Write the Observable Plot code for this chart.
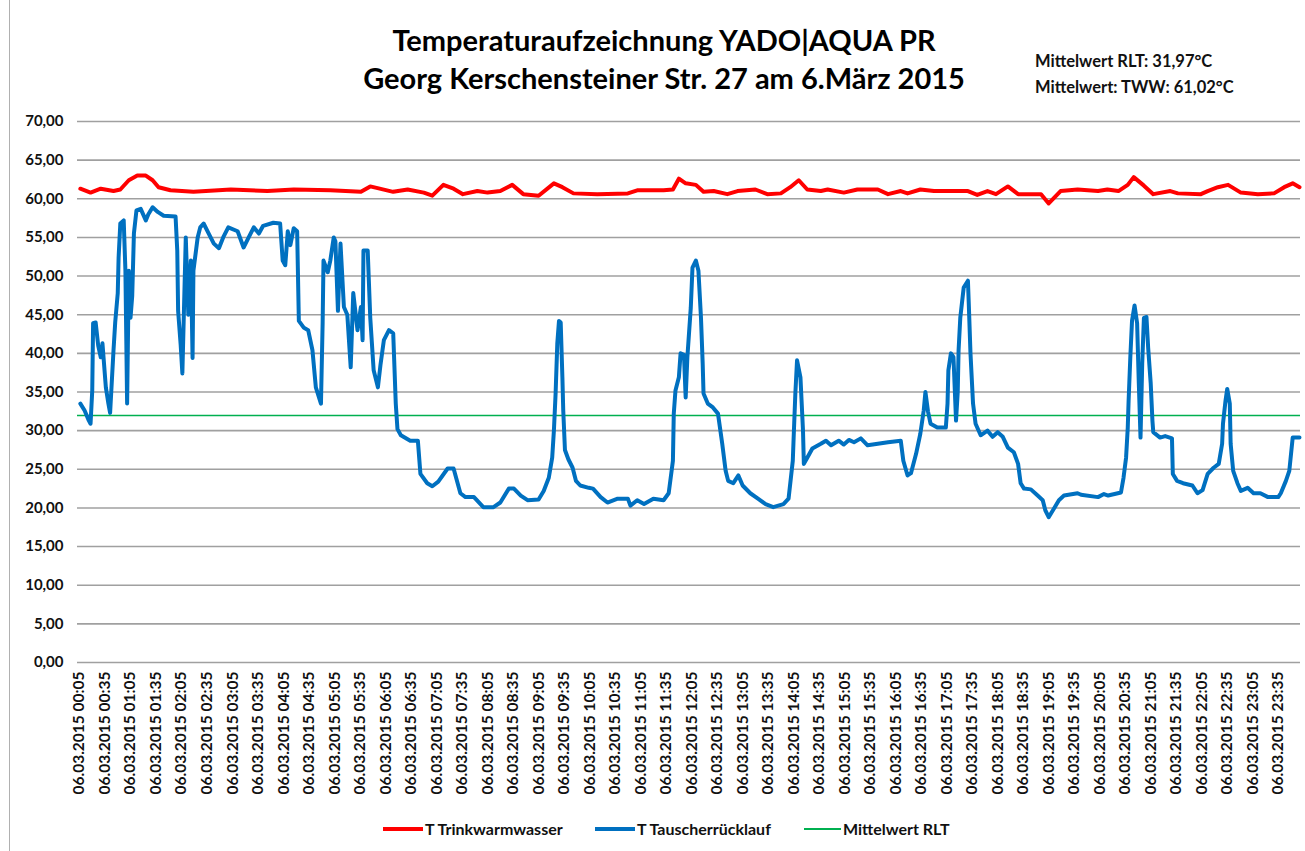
<!DOCTYPE html>
<html>
<head>
<meta charset="utf-8">
<script src="https://cdn.jsdelivr.net/npm/d3@7"></script>
<script src="https://cdn.jsdelivr.net/npm/@observablehq/plot@0.6"></script>
<style>
  html, body { margin: 0; padding: 0; background: #fff; }
  #wrap { position: relative; width: 1305px; height: 851px; overflow: hidden; font-family: Lato, "Open Sans", sans-serif; color: #111; }
  #frame { position: absolute; left: 9px; top: 0; width: 0; height: 851px; border-left: 1.5px solid #b0b0b0; }
  #title { position: absolute; left: 164px; width: 1000px; top: 21px; text-align: center; font-weight: bold; font-size: 29px; line-height: 38px; color: #000; }
  #note { position: absolute; left: 1035px; top: 48px; font-weight: bold; font-size: 16.5px; line-height: 26px; color: #111; }
  #chart { position: absolute; left: 0; top: 110px; }
  .leg { position: absolute; top: 819px; font-weight: bold; font-size: 16px; line-height: 20px; color: #111; display: flex; align-items: center; white-space: nowrap; }
  .sw { display: inline-block; margin-right: 2px; }
</style>
</head>
<body>
<div id="wrap">
  <div id="frame"></div>
  <div id="title">Temperaturaufzeichnung YADO|AQUA PR<br>Georg Kerschensteiner Str. 27 am 6.März 2015</div>
  <div id="note">Mittelwert RLT: 31,97°C<br>Mittelwert: TWW: 61,02°C</div>
  <div id="chart"></div>
  <div class="leg" style="left:383px"><span class="sw" style="width:40px;height:4px;background:#ff0000"></span>T Trinkwarmwasser</div>
  <div class="leg" style="left:595px"><span class="sw" style="width:40px;height:4px;background:#0070c0"></span>T Tauscherrücklauf</div>
  <div class="leg" style="left:804px"><span class="sw" style="width:37px;height:2px;background:#00b050"></span>Mittelwert RLT</div>
</div>
<script>
// minute of day (06.03.2015), value °C
const tauscherRuecklauf = [
  [6,33.5],[11,32.6],[16,31.3],[18,30.9],[20,35.2],[21,43.9],[24,44.0],[27,41],[30,39.5],[32,41.3],
  [36,35.6],[39,33.5],[41,32.3],[45,40.4],[47,44],[50,47.8],[51,52.4],[53,56.8],[57,57.2],[59,50.7],
  [61,33.5],[63,50.7],[65,44.6],[67,47.4],[69,55.5],[72,58.5],[77,58.7],[83,57.2],[86,58.0],[91,58.9],
  [97,58.3],[104,57.8],[118,57.7],[120,53.3],[121,45.5],[124,41.1],[126,37.4],[130,55],[133,45],[136,52],
  [138,39.4],[139,50.7],[144,55],[147,56.3],[151,56.8],[157,55.5],[163,54.2],[169,53.6],[174,55],[180,56.3],
  [191,55.8],[198,53.7],[204,55.0],[210,56.3],[216,55.5],[221,56.5],[233,56.9],[241,56.8],[244,52],[247,51.4],
  [250,55.8],[253,54],[257,56.2],[261,55.8],[263,44.2],[269,43.3],[274,43.0],[279,40.4],[283,35.6],[289,33.5],
  [291,44],[292,52],[297,50.5],[300,52],[304,55],[306,54.5],[309,45.5],[312,54.2],[316,46],[320,45],
  [324,38.2],[327,47.8],[332,43],[336,46],[338,41.7],[339,53.3],[344,53.3],[347,44.6],[351,37.8],[356,35.6],
  [359,38.5],[363,41.7],[369,43],[374,42.6],[377,33.5],[379,30.2],[383,29.4],[394,28.7],[403,28.7],[406,24.4],
  [414,23.2],[420,22.8],[427,23.4],[438,25.1],[445,25.1],[453,21.9],[459,21.4],[469,21.4],[480,20.1],[492,20.1],
  [500,20.7],[510,22.5],[516,22.5],[524,21.6],[532,21],[545,21.1],[551,22.2],[557,23.9],[561,26.5],[563,30],
  [565,34.8],[567,41.3],[569,44.2],[571,44],[573,36.9],[574,32.6],[576,27.5],[580,26.3],[585,25.2],[589,23.5],
  [594,22.9],[604,22.6],[609,22.5],[618,21.4],[626,20.7],[638,21.2],[650,21.2],[653,20.3],[661,21],[669,20.5],
  [680,21.2],[692,21],[698,21.9],[703,26.1],[704,32.2],[706,35.2],[710,36.9],[712,40],[716,39.8],[718,34.3],
  [720,39.5],[724,45.9],[726,51.1],[730,52],[733,50.7],[736,44.6],[738,38.7],[739,34.8],[744,33.5],[750,33],
  [756,32.2],[761,28.3],[765,24.8],[768,23.5],[774,23.2],[780,24.2],[785,22.9],[794,21.9],[803,21.2],[812,20.5],
  [821,20.1],[833,20.5],[839,21.2],[844,26.1],[845,29.1],[847,34.8],[849,39.1],[853,36.9],[856,30],[857,25.7],
  [861,26.5],[867,27.7],[877,28.3],[883,28.7],[889,28.1],[898,28.7],[904,28.2],[910,28.8],[916,28.5],[924,29],
  [932,28.1],[956,28.5],[971,28.7],[974,26.1],[979,24.2],[983,24.5],[989,27],[994,29.6],[998,32.6],[1000,35],
  [1003,32.5],[1006,30.9],[1014,30.4],[1024,30.4],[1026,33.5],[1027,37.8],[1030,40],[1033,39.5],[1036,31.3],[1038,35],
  [1039,40.4],[1041,44.6],[1045,48.5],[1050,49.4],[1051,46.4],[1053,40],[1056,33.5],[1059,30.9],[1065,29.4],[1073,30],
  [1079,29.2],[1085,29.8],[1091,29.2],[1097,27.8],[1104,27.2],[1109,25.7],[1112,23.2],[1116,22.5],[1124,22.4],[1132,21.6],
  [1138,21],[1141,19.7],[1145,18.8],[1150,19.7],[1157,21],[1163,21.6],[1179,21.9],[1183,21.7],[1203,21.4],[1210,21.8],
  [1215,21.6],[1230,22],[1233,23.9],[1236,26.5],[1238,30.4],[1239,33.9],[1241,39.5],[1243,44.2],[1246,46.2],[1249,43.9],
  [1251,36.1],[1253,29.1],[1255,38.7],[1257,44.6],[1260,44.7],[1262,40.7],[1265,36.1],[1267,31.3],[1268,29.8],[1276,29.1],
  [1282,29.3],[1290,29],[1291,24.4],[1296,23.5],[1303,23.2],[1314,22.9],[1320,21.9],[1326,22.3],[1332,24.4],[1339,25.2],
  [1345,25.7],[1349,28.3],[1350,30.9],[1353,33.9],[1355,35.4],[1358,33.5],[1359,28.3],[1362,24.8],[1367,23.2],[1371,22.2],
  [1379,22.6],[1386,21.9],[1394,21.9],[1403,21.4],[1415,21.4],[1418,21.9],[1424,23.5],[1428,24.8],[1432,29.1],[1440,29.1]
];
const trinkwarmwasser = [
  [6,61.3],[18,60.8],[30,61.3],[45,61.0],[53,61.2],[63,62.4],[73,63.0],[83,63.0],[91,62.4],[98,61.5],
  [112,61.1],[139,60.9],[183,61.2],[226,61.0],[257,61.2],[300,61.1],[336,60.9],[347,61.6],[374,60.9],[391,61.2],
  [410,60.8],[420,60.4],[433,61.8],[445,61.3],[456,60.6],[473,61.0],[485,60.8],[500,61.0],[514,61.8],[527,60.6],
  [545,60.4],[563,62.0],[573,61.5],[586,60.7],[614,60.6],[650,60.7],[661,61.1],[692,61.1],[703,61.2],[710,62.6],
  [718,62.0],[730,61.8],[739,60.9],[751,61.0],[767,60.6],[779,61.0],[800,61.2],[814,60.6],[830,60.7],[841,61.5],
  [851,62.4],[861,61.2],[877,61.0],[885,61.2],[904,60.8],[920,61.2],[944,61.2],[956,60.6],[971,61.0],[979,60.7],
  [994,61.2],[1010,61.0],[1033,61.0],[1050,61.0],[1061,60.5],[1073,61.0],[1083,60.6],[1097,61.6],[1109,60.6],[1136,60.6],
  [1145,59.4],[1159,61.0],[1179,61.2],[1203,61.0],[1214,61.2],[1227,61.0],[1238,61.8],[1245,62.8],[1257,61.7],[1268,60.6],
  [1288,61.0],[1297,60.7],[1324,60.6],[1332,61.0],[1344,61.5],[1356,61.8],[1371,60.8],[1391,60.6],[1410,60.7],[1422,61.5],
  [1432,62.0],[1440,61.5]
];
const mittelwertRLT = 31.97;
const yTicks = [0,5,10,15,20,25,30,35,40,45,50,55,60,65,70];
const xTickLabels = [
  "00:05","00:35","01:05","01:35","02:05","02:35","03:05","03:35","04:05","04:35","05:05","05:35",
  "06:05","06:35","07:05","07:35","08:05","08:35","09:05","09:35","10:05","10:35","11:05","11:35",
  "12:05","12:35","13:05","13:35","14:05","14:35","15:05","15:35","16:05","16:35","17:05","17:35",
  "18:05","18:35","19:05","19:35","20:05","20:35","21:05","21:35","22:05","22:35","23:05","23:35"
];
const datePrefix = "06.03.2015 ";

const toMin = s => (+s.slice(0, 2)) * 60 + (+s.slice(3, 5));
const tickMins = xTickLabels.map(toMin);
const labelOf = new Map(xTickLabels.map(s => [toMin(s), datePrefix + s]));
const fmtY = d => d.toFixed(2).replace(".", ",");

const chart = Plot.plot({
  width: 1305,
  height: 700,
  marginTop: 11,
  marginBottom: 148,
  marginLeft: 77,
  marginRight: 5,
  style: { fontFamily: "Lato, 'Open Sans', sans-serif", fontWeight: "bold", color: "#111", background: "transparent" },
  x: { type: "linear", domain: [5, 1440], range: [79, 1299] },
  y: { domain: [0, 70] },
  marks: [
    Plot.gridY(yTicks, { stroke: "#a0a0a0", strokeOpacity: 1, strokeWidth: 1.6 }),
    Plot.axisY(yTicks, { tickSize: 0, tickPadding: 14, tickFormat: fmtY, fontSize: 15, fontWeight: "bold", fill: "#111", label: null }),
    Plot.axisX(tickMins, { tickSize: 0, tickPadding: 9, tickRotate: -90, textAnchor: "end", tickFormat: m => labelOf.get(m), fontSize: 15.5, fontWeight: "bold", fill: "#111", label: null }),
    Plot.ruleY([mittelwertRLT], { stroke: "#00b050", strokeWidth: 1.5 }),
    Plot.line(trinkwarmwasser, { x: d => d[0], y: d => d[1], stroke: "#ff0000", strokeWidth: 4, strokeLinejoin: "round" }),
    Plot.line(tauscherRuecklauf, { x: d => d[0], y: d => d[1], stroke: "#0070c0", strokeWidth: 4, strokeLinejoin: "round" })
  ]
});
document.getElementById("chart").appendChild(chart);
</script>
</body>
</html>
